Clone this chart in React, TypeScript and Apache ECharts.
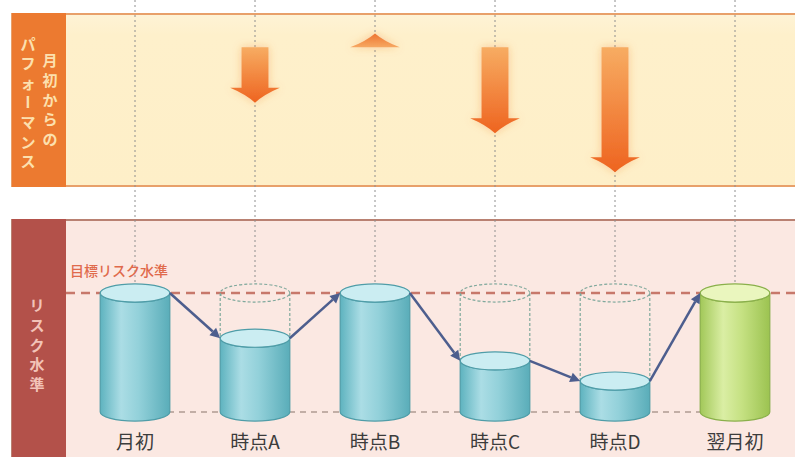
import React, { useEffect, useRef } from 'react';
import * as echarts from 'echarts';

// ---- data ----
const categories = ['月初', '時点A', '時点B', '時点C', '時点D', '翌月初'];
const riskLevel = [100, 62, 100, 43, 26, 100];
const performance: (number | null)[] = [null, -2.0, 0.5, -3.1, -4.5, null];
const targetRisk = 100;
const perfLabelCols = ['月初からの', 'パフォーマンス'];
const riskPanelLabel = 'リスク水準';
const targetLabel = '目標リスク水準';

// ---- layout / style constants ----
const FONT = "'Noto Sans CJK JP', 'Noto Sans', sans-serif";
const GRID_LEFT = 75;
const GRID_WIDTH = 724;
const PANEL_INNER_LEFT = 66;

const teal = {
  body: [
    { offset: 0, color: '#5EB3BF' },
    { offset: 0.3, color: '#ABDDE5' },
    { offset: 0.55, color: '#93D1DA' },
    { offset: 1, color: '#5AADB9' },
  ],
  top: '#CBEDF2',
  stroke: '#4F9DA8',
};
const green = {
  body: [
    { offset: 0, color: '#A2C859' },
    { offset: 0.33, color: '#DAEEA4' },
    { offset: 0.6, color: '#C5E182' },
    { offset: 1, color: '#9CC351' },
  ],
  top: '#EAF6BE',
  stroke: '#8AB04B',
};

function ellipsePath(cx: number, cy: number, rx: number, ry: number) {
  const l = cx - rx, r = cx + rx;
  return `M${l} ${cy}A${rx} ${ry} 0 0 0 ${r} ${cy}A${rx} ${ry} 0 0 0 ${l} ${cy}Z`;
}
function cylinderPath(cx: number, rx: number, ry: number, yt: number, yb: number) {
  const l = cx - rx, r = cx + rx;
  return `M${l} ${yt}L${l} ${yb}A${rx} ${ry} 0 0 0 ${r} ${yb}L${r} ${yt}A${rx} ${ry} 0 0 1 ${l} ${yt}Z`;
}

// Vertical (tategaki-like) text: runs of characters become one multi-line text;
// the long-vowel mark is drawn rotated as in vertical writing.
function verticalText(text: string, x: number, yCenter: number, step: number, fontSize: number, color: string) {
  const chars = Array.from(text);
  const y0 = yCenter - ((chars.length - 1) * step) / 2;
  const out: any[] = [];
  const baseStyle = {
    fill: color,
    fontSize,
    fontWeight: 'bold',
    fontFamily: FONT,
    align: 'center',
    verticalAlign: 'middle',
    lineHeight: step,
  };
  let k = 0;
  while (k < chars.length) {
    if (chars[k] === 'ー') {
      out.push({
        type: 'text',
        x,
        y: y0 + k * step,
        rotation: -Math.PI / 2,
        z: 1,
        silent: true,
        style: { ...baseStyle, text: 'ー' },
      });
      k++;
      continue;
    }
    const start = k;
    while (k < chars.length && chars[k] !== 'ー') k++;
    const run = chars.slice(start, k);
    const center = y0 + ((start + k - 1) / 2) * step;
    out.push({
      type: 'text',
      x,
      y: center,
      z: 1,
      silent: true,
      style: { ...baseStyle, text: run.join('\n') },
    });
  }
  return out;
}

function renderCylinder(params: any, api: any) {
  const i = params.dataIndex;
  const v = api.value(1);
  const [cx, yLevel] = api.coord([i, v]);
  const [, yBase] = api.coord([i, 0]);
  const [, yFull] = api.coord([i, targetRisk]);
  const band = api.size([1, 0])[0];
  const rx = band * 0.29;
  const ry = rx * 0.26;
  const pal = i === categories.length - 1 ? green : teal;
  const children: any[] = [];

  // vertical dotted guide
  children.push({
    type: 'line',
    shape: { x1: cx, y1: 0, x2: cx, y2: yFull - ry },
    style: { stroke: '#8E8E8E', lineWidth: 1, lineDash: [2, 3] },
  });

  if (i === 0) {
    const cs = params.coordSys;
    const [lastCx] = api.coord([categories.length - 1, 0]);
    children.push({
      type: 'line',
      shape: { x1: PANEL_INNER_LEFT, y1: yFull, x2: cs.x + cs.width, y2: yFull },
      style: { stroke: '#C7786B', lineWidth: 2.5, lineDash: [9, 6] },
    });
    children.push({
      type: 'line',
      shape: { x1: cx, y1: yBase, x2: lastCx, y2: yBase },
      style: { stroke: '#B09A93', lineWidth: 1.5, lineDash: [6, 5] },
    });
    children.push({
      type: 'text',
      x: PANEL_INNER_LEFT + 4,
      y: yFull - 23,
      style: {
        text: targetLabel,
        fill: '#E06A4C',
        fontSize: 14,
        fontFamily: FONT,
        fontWeight: 500,
        align: 'left',
        verticalAlign: 'middle',
      },
    });
  }

  // empty (dashed) part
  if (v < targetRisk) {
    children.push({
      type: 'path',
      shape: {
        pathData:
          ellipsePath(cx, yFull, rx, ry) +
          `M${cx - rx} ${yFull}L${cx - rx} ${yLevel}M${cx + rx} ${yFull}L${cx + rx} ${yLevel}`,
      },
      style: { fill: 'none', stroke: '#7FA89C', lineWidth: 1.2, lineDash: [3, 2] },
    });
  }

  // filled body
  children.push({
    type: 'path',
    shape: { pathData: cylinderPath(cx, rx, ry, yLevel, yBase) },
    style: {
      fill: new echarts.graphic.LinearGradient(0, 0, 1, 0, pal.body),
      stroke: pal.stroke,
      lineWidth: 1.2,
    },
  });
  children.push({
    type: 'path',
    shape: { pathData: ellipsePath(cx, yLevel, rx, ry) },
    style: { fill: pal.top, stroke: pal.stroke, lineWidth: 1.2 },
  });

  // connecting arrow from previous point
  if (i > 0) {
    const [pcx, py] = api.coord([i - 1, riskLevel[i - 1]]);
    const sx = pcx + rx, sy = py;
    const ex = cx - rx, ey = yLevel;
    const ang = Math.atan2(ey - sy, ex - sx);
    const c = Math.cos(ang), s = Math.sin(ang);
    const hl = 10, hw = 5;
    const bx = ex - hl * c, by = ey - hl * s;
    children.push({
      type: 'line',
      shape: { x1: sx, y1: sy, x2: bx, y2: by },
      style: { stroke: '#4D5E8E', lineWidth: 2.5 },
    });
    children.push({
      type: 'polygon',
      shape: { points: [[ex, ey], [bx - hw * s, by + hw * c], [bx + hw * s, by - hw * c]] },
      style: { fill: '#4D5E8E' },
    });
  }

  return { type: 'group', children };
}

function renderPerfArrow(params: any, api: any) {
  const i = params.dataIndex;
  const raw = performance[i];
  const v = api.value(1);
  if (raw == null || v == null || isNaN(v)) return { type: 'group', children: [] };
  const [x, base] = api.coord([i, 0]);
  const [, tip] = api.coord([i, v]);
  const band = api.size([1, 0])[0];
  const bw = band * 0.112;
  const hw = band * 0.207;
  const d = tip > base ? 1 : -1;
  const L = Math.abs(tip - base);
  const h = Math.min(15, L);
  const ys = tip - d * h;
  const cy = ys + d * h * 0.45;
  const pathData =
    `M${x - bw} ${base}L${x + bw} ${base}L${x + bw} ${ys}L${x + hw} ${ys}` +
    `Q${x + hw * 0.35} ${cy} ${x} ${tip}Q${x - hw * 0.35} ${cy} ${x - hw} ${ys}L${x - bw} ${ys}Z`;
  const stops =
    d > 0
      ? [
          { offset: 0, color: '#F7AC62' },
          { offset: 1, color: '#EE6420' },
        ]
      : [
          { offset: 0, color: '#EE7430' },
          { offset: 1, color: '#F6A862' },
        ];
  return {
    type: 'path',
    shape: { pathData },
    style: {
      fill: new echarts.graphic.LinearGradient(0, 0, 0, 1, stops),
      shadowBlur: 8,
      shadowColor: 'rgba(240,120,40,0.35)',
    },
  };
}

export default function App() {
  const ref = useRef<HTMLDivElement>(null);
  useEffect(() => {
    if (!ref.current) return;
    const chart = echarts.init(ref.current, null, { renderer: 'svg' });
    const graphics: any[] = [
      // top panel
      {
        type: 'rect',
        z: 0,
        silent: true,
        shape: { x: 12, y: 14, width: 795, height: 172 },
        style: {
          fill: new echarts.graphic.LinearGradient(0, 0, 0, 1, [
            { offset: 0, color: '#FEF3D6' },
            { offset: 0.12, color: '#FEF0CB' },
            { offset: 1, color: '#FEEFC8' },
          ]),
          stroke: '#E8A06A',
          lineWidth: 2,
        },
      },
      {
        type: 'rect',
        z: 0,
        silent: true,
        shape: { x: 12, y: 13, width: 54, height: 174 },
        style: { fill: '#EC7A30' },
      },
      // bottom panel
      {
        type: 'rect',
        z: 0,
        silent: true,
        shape: { x: 12, y: 220, width: 795, height: 250 },
        style: { fill: '#FBE8E2', stroke: '#B98172', lineWidth: 2 },
      },
      {
        type: 'rect',
        z: 0,
        silent: true,
        shape: { x: 12, y: 219, width: 54, height: 250 },
        style: { fill: '#B3514A' },
      },
      ...verticalText(perfLabelCols[0], 50, 99, 19.6, 15, '#FCE0AE'),
      ...verticalText(perfLabelCols[1], 28, 102, 19.6, 15, '#FCE0AE'),
      ...verticalText(riskPanelLabel, 37, 344, 19.6, 15, '#F2C3B8'),
    ];

    chart.setOption({
      animation: false,
      graphic: { elements: graphics },
      grid: [
        { left: GRID_LEFT, width: GRID_WIDTH, top: 14, height: 172 },
        { left: GRID_LEFT, width: GRID_WIDTH, top: 293, height: 119 },
      ],
      xAxis: [
        { type: 'category', data: categories, gridIndex: 0, show: false },
        {
          type: 'category',
          data: categories,
          gridIndex: 1,
          axisLine: { show: false },
          axisTick: { show: false },
          splitLine: { show: false },
          axisLabel: { margin: 19, fontSize: 19, color: '#3C3C3C', fontFamily: FONT },
        },
      ],
      yAxis: [
        { type: 'value', gridIndex: 0, min: -5, max: 1.2, show: false },
        { type: 'value', gridIndex: 1, min: 0, max: 100, show: false },
      ],
      series: [
        {
          type: 'custom',
          name: 'リスク水準',
          xAxisIndex: 1,
          yAxisIndex: 1,
          clip: false,
          z: 2,
          data: riskLevel.map((v, i) => [i, v]),
          encode: { x: 0, y: 1 },
          renderItem: renderCylinder,
        },
        {
          type: 'custom',
          name: '月初からのパフォーマンス',
          xAxisIndex: 0,
          yAxisIndex: 0,
          clip: false,
          z: 3,
          data: performance.map((v, i) => [i, v == null ? '-' : v]),
          encode: { x: 0, y: 1 },
          renderItem: renderPerfArrow,
        },
      ],
    });
    return () => chart.dispose();
  }, []);
  return (
    <div
      ref={ref}
      style={{ position: 'fixed', left: 0, top: 0, width: 795, height: 457, background: '#FFFFFF' }}
    />
  );
}
